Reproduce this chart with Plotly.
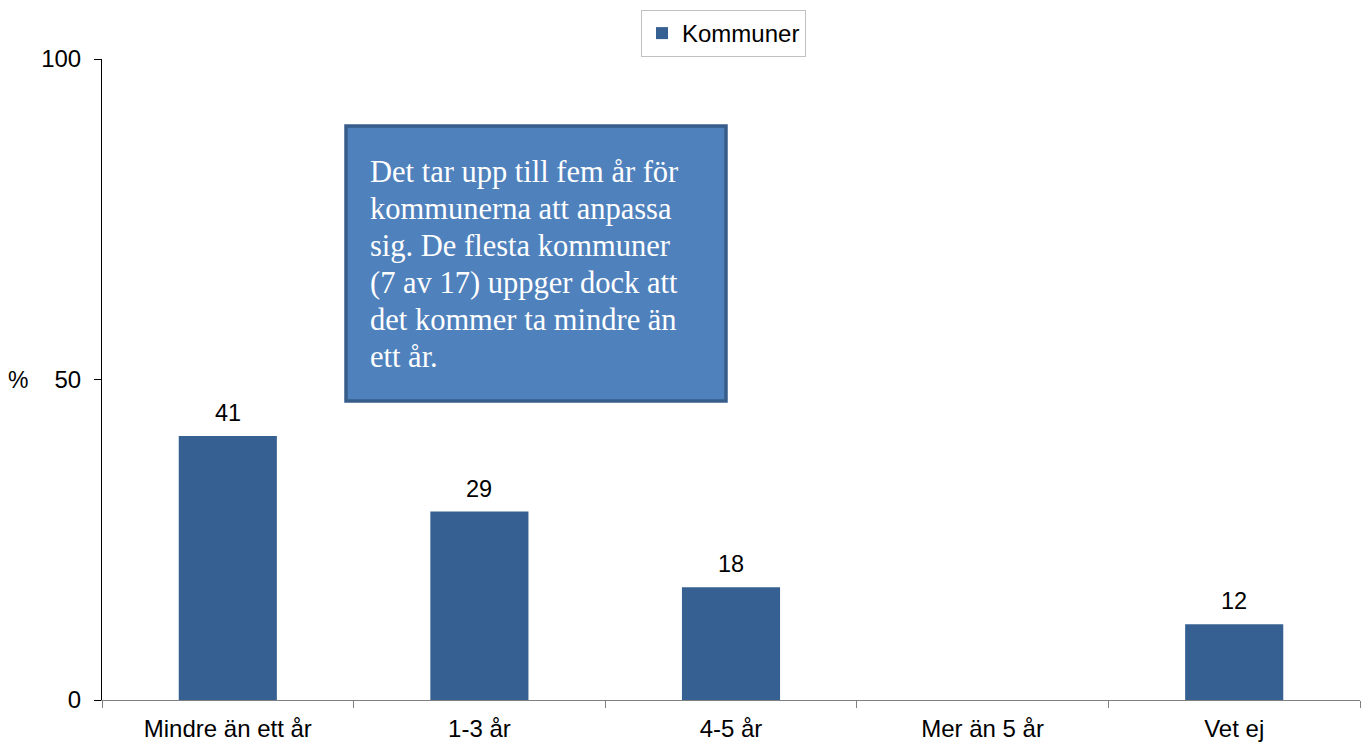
import plotly.graph_objects as go

categories = ["Mindre än ett år", "1-3 år", "4-5 år", "Mer än 5 år", "Vet ej"]
values = [41.2, 29.4, 17.6, 0, 11.8]
value_labels = ["41", "29", "18", "", "12"]
series_name = "Kommuner"
y_ticks = [0, 50, 100]
note_lines = [
    "Det tar upp till fem år för",
    "kommunerna att anpassa",
    "sig. De flesta kommuner",
    "(7 av 17) uppger dock att",
    "det kommer ta mindre än",
    "ett år.",
]

# page body has an 8px default margin; figure is sized to fit the window
OFF = 8
W, H = 1370 - OFF, 744 - OFF
L = 102 - OFF
T = 59 - OFF
R = W - (1360 - OFF)
B = H - (700 - OFF)
pw, ph = W - L - R, H - T - B

def px_x(x):
    return (x - OFF - L) / pw

def px_y(y):
    return (H - B - (y - OFF)) / ph

fig = go.Figure()
fig.add_trace(go.Bar(
    x=categories, y=values, name=series_name,
    marker=dict(color="#376092", line=dict(width=0)),
    cliponaxis=False,
))

for c, v, lab in zip(categories, values, value_labels):
    if lab:
        fig.add_annotation(
            x=c, y=v, xref="x", yref="y", text=lab, showarrow=False,
            yanchor="bottom", yshift=8,
            font=dict(family="Liberation Sans, Arial", size=23.5, color="#000000"),
        )

fig.update_layout(
    width=W, height=H,
    margin=dict(l=L, r=R, t=T, b=B, autoexpand=False),
    paper_bgcolor="white", plot_bgcolor="white",
    bargap=0.61,
    showlegend=True,
    font=dict(family="Liberation Sans, Arial", size=23, color="#000000"),
    legend=dict(
        x=px_x(641), xanchor="left", y=px_y(10), yanchor="top",
        orientation="h",
        bordercolor="#c0c0c0", borderwidth=1,
        font=dict(size=24),
        itemwidth=30,
    ),
    xaxis=dict(
        showline=True, linecolor="#808080", linewidth=1,
        ticks="outside", tickson="boundaries", ticklen=7, tickcolor="#808080",
        showgrid=False, tickfont=dict(size=24), automargin=False,
        ticklabelstandoff=7,
    ),
    yaxis=dict(
        range=[0, 100], tickvals=y_ticks,
        showline=True, linecolor="#000000", linewidth=1,
        ticks="outside", ticklen=7, tickcolor="#000000",
        showgrid=False, zeroline=False, tickfont=dict(size=24),
        ticklabelstandoff=8, automargin=False,
    ),
)

fig.add_shape(
    type="rect", xref="paper", yref="paper",
    x0=px_x(346), x1=px_x(726), y0=px_y(401), y1=px_y(126),
    fillcolor="#4F81BD", line=dict(color="#385D8A", width=3.5), layer="above",
)

baselines = [182, 219, 256, 293, 330, 367]
for line, bl in zip(note_lines, baselines):
    fig.add_annotation(
        xref="paper", yref="paper", x=px_x(368), y=px_y(bl - 10),
        xanchor="left", yanchor="middle", align="left",
        text=line, showarrow=False,
        font=dict(family="Liberation Serif, Times New Roman", size=30.5, color="white"),
    )

fig.add_annotation(
    xref="paper", yref="paper", x=px_x(18), y=px_y(380),
    xanchor="center", yanchor="middle",
    text="%", showarrow=False,
    font=dict(size=23, color="#000000"),
)

fig.write_html("out.html")
